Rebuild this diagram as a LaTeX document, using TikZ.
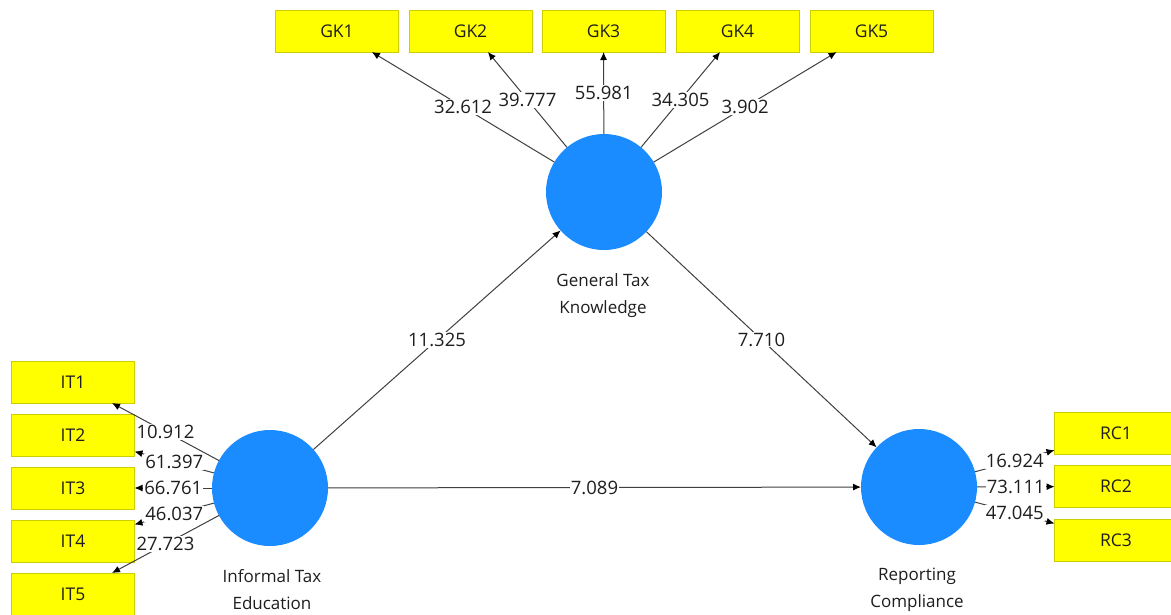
\documentclass[tikz,border=0pt]{standalone}
\usepackage{fontspec}
\setmainfont{Open Sans}
\usetikzlibrary{arrows.meta}
\definecolor{boxfill}{HTML}{FFFF00}
\definecolor{boxline}{HTML}{CDCD00}
\definecolor{lvfill}{HTML}{1A8CFF}
\definecolor{lnc}{HTML}{404040}
\definecolor{txt}{HTML}{1E1E1E}
\begin{document}
\begin{tikzpicture}[x=1pt,y=-1pt,
  ind/.style={draw=boxline, fill=boxfill, line width=0.8pt, minimum width=123pt, minimum height=42pt, inner sep=0pt, outer sep=0pt, font=\fontsize{17.5}{20}\selectfont, text=txt},
  lat/.style={circle, fill=lvfill, minimum size=116pt, inner sep=0pt, outer sep=0pt},
  conn/.style={draw=lnc, line width=1pt, -{Latex[length=8pt,width=7pt,black]}},
  val/.style={fill=white, inner sep=1pt, font=\fontsize{18.5}{20}\selectfont, text=txt},
  latlabel/.style={align=center, inner sep=0pt, font=\fontsize{17}{27}\selectfont, text=txt, anchor=north}
]
\useasboundingbox (0,0) rectangle (1171,614);
\clip (0,0) rectangle (1171,614);
\fill[white] (0,0) rectangle (1171,614);

% latent variables
\node[lat] (gtk) at (604,192) {};
\node[lat] (ite) at (270,488) {};
\node[lat] (rc)  at (919,487) {};

\node[latlabel] (gtkl) at (603,273) {General Tax\\Knowledge};
\node[latlabel] (itel) at (272,569) {Informal Tax\\Education};
\node[latlabel] (rcl)  at (917,568) {Reporting\\Compliance};

% indicators
\node[ind] (gk1) at (337,31) {GK1};
\node[ind] (gk2) at (470.5,31) {GK2};
\node[ind] (gk3) at (603.5,31) {GK3};
\node[ind] (gk4) at (737.5,31) {GK4};
\node[ind] (gk5) at (871.5,31) {GK5};

\node[ind] (it1) at (73,382) {IT1};
\node[ind] (it2) at (73,435) {IT2};
\node[ind] (it3) at (73,488) {IT3};
\node[ind] (it4) at (73,541) {IT4};
\node[ind] (it5) at (73,594) {IT5};

\node[ind] (rc1) at (1116,433.5) {RC1};
\node[ind] (rc2) at (1116,486.5) {RC2};
\node[ind] (rc3) at (1116,540) {RC3};

% outer loadings
\draw[conn] (gtk) -- node[val]{32.612} (gk1);
\draw[conn] (gtk) -- node[val]{39.777} (gk2);
\draw[conn] (gtk) -- node[val]{55.981} (gk3);
\draw[conn] (gtk) -- node[val]{34.305} (gk4);
\draw[conn] (gtk) -- node[val]{3.902} (gk5);

\draw[conn] (ite) -- node[val]{10.912} (it1);
\draw[conn] (ite) -- node[val]{61.397} (it2);
\draw[conn] (ite) -- node[val]{66.761} (it3);
\draw[conn] (ite) -- node[val]{46.037} (it4);
\draw[conn] (ite) -- node[val]{27.723} (it5);

\draw[conn] (rc) -- node[val]{16.924} (rc1);
\draw[conn] (rc) -- node[val]{73.111} (rc2);
\draw[conn] (rc) -- node[val]{47.045} (rc3);

% structural paths
\draw[conn] (ite) -- node[val]{11.325} (gtk);
\draw[conn] (gtk) -- node[val]{7.710} (rc);
\draw[conn] (ite) -- node[val]{7.089} (rc);
\end{tikzpicture}
\end{document}
